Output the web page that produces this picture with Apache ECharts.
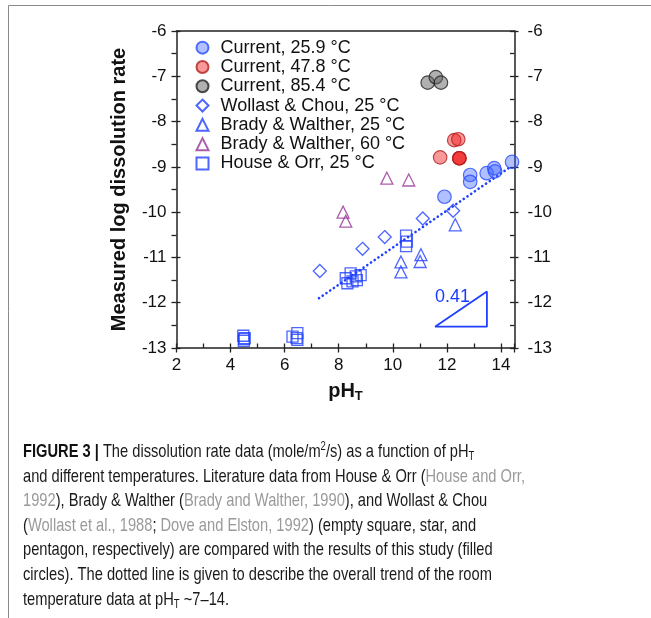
<!DOCTYPE html>
<html><head><meta charset="utf-8">
<script src="https://cdn.jsdelivr.net/npm/echarts@6/dist/echarts.min.js"></script>
<style>html,body{margin:0;padding:0;background:#fff}#c{width:651px;height:618px}</style>
</head><body><div id="c"></div>
<script>
// ---- data (pH_T, measured log dissolution rate) ----
const current259 = [[11.91,-9.66],[12.86,-9.18],[12.86,-9.33],[13.47,-9.14],[13.75,-9.03],[13.78,-9.10],[14.41,-8.89]];
const current478 = [[11.75,-8.79],[12.27,-8.41],[12.42,-8.39],[12.46,-8.81],[12.46,-8.81],[12.46,-8.81]];
const current854 = [[11.29,-7.14],[11.59,-7.02],[11.78,-7.14]];
const wollast25 = [[7.30,-11.30],[8.88,-10.81],[9.70,-10.55],[11.11,-10.14],[12.23,-9.97]];
const brady25 = [[10.30,-11.10],[10.30,-11.32],[11.04,-10.94],[11.01,-11.09],[12.31,-10.28]];
const brady60 = [[8.16,-10.00],[8.26,-10.20],[9.78,-9.25],[10.59,-9.29]];
const houseOrr25 = [[8.26,-11.46],[8.44,-11.35],[8.63,-11.42],[8.81,-11.39],[8.32,-11.57],[8.51,-11.53],[8.67,-11.50],
  [10.49,-10.52],[10.52,-10.65],[10.49,-10.75],
  [4.47,-12.73],[4.49,-12.84],[4.52,-12.78],[4.50,-12.80],
  [6.29,-12.75],[6.47,-12.82],[6.47,-12.67],[6.44,-12.78]];
const trendLine = [[7.27,-11.90],[14.40,-8.98]];
const slopeTriangle = [[11.56,-12.53],[13.48,-11.75],[13.48,-12.53],[11.56,-12.53]];
const slopeLabel = '0.41';
const slopeLabelAt = [[12.15,-11.88]];
const seriesNames = ['Current, 25.9 °C','Current, 47.8 °C','Current, 85.4 °C','Wollast & Chou, 25 °C','Brady & Walther, 25 °C','Brady & Walther, 60 °C','House & Orr, 25 °C'];
const xTicks = [2,4,6,8,10,12,14];
const yTicks = [-13,-12,-11,-10,-9,-8,-7,-6];
const captionLines = [
  '{b|FIGURE 3 |}{n| The dissolution rate data (mole/m}{sup|2}{n|/s) as a function of pH}{sub|T}',
  '{n|and different temperatures. Literature data from House & Orr (}{g|House and Orr,}',
  '{g|1992}{n|), Brady & Walther (}{g|Brady and Walther, 1990}{n|), and Wollast & Chou}',
  '{n|(}{g|Wollast et al., 1988}{n|; }{g|Dove and Elston, 1992}{n|) (empty square, star, and}',
  '{n|pentagon, respectively) are compared with the results of this study (filled}',
  '{n|circles). The dotted line is given to describe the overall trend of the room}',
  '{n|temperature data at pH}{sub|T}{n| ~7–14.}'
];

const FONT = 'Liberation Sans, Arial, Helvetica, sans-serif';
const BLUE = '#2040ff';
const PURPLE = '#993399';
const AX = '#222';
const CAP = 18.5;

const chart = echarts.init(document.getElementById('c'), null, {renderer:'canvas'});

function fmtInt(v){ return xTicks.indexOf(v) >= 0 ? String(v) : ''; }
function fmtY(v){ return yTicks.indexOf(v) >= 0 ? String(v) : ''; }

// caption scale: fit line 2 to its width in the figure
const cv = document.createElement('canvas').getContext('2d');
cv.font = CAP + 'px ' + FONT;
const natural = cv.measureText('and different temperatures. Literature data from House & Orr (House and Orr,').width;
const capScale = 502 / natural;

const graphics = [
  {type:'line', shape:{x1:8.5,y1:5.5,x2:651,y2:5.5}, style:{stroke:'#8a8a8a', lineWidth:1}},
  {type:'line', shape:{x1:8.5,y1:5.5,x2:8.5,y2:618}, style:{stroke:'#8a8a8a', lineWidth:1}}
];
const capY = [452,477,501,526,550,575,600];
captionLines.forEach((t,i)=>{
  graphics.push({type:'text', x:23, y:capY[i], scaleX:capScale, originX:0, originY:0,
    style:{text:t, fontFamily:FONT, fontSize:CAP, fill:'#1a1a1a', verticalAlign:'middle', align:'left',
      rich:{
        n:{fontSize:CAP, fill:'#1a1a1a', fontFamily:FONT, lineHeight:22},
        b:{fontSize:CAP, fontWeight:'bold', fill:'#111', fontFamily:FONT, lineHeight:22},
        g:{fontSize:CAP, fill:'#9a9a9a', fontFamily:FONT, lineHeight:22},
        sup:{fontSize:12, fill:'#1a1a1a', fontFamily:FONT, lineHeight:13, verticalAlign:'top'},
        sub:{fontSize:12, fill:'#1a1a1a', fontFamily:FONT, lineHeight:13, verticalAlign:'bottom'}
      }}});
});

const grid = {left:176.5, right:136.5, top:31, bottom:270, containLabel:false};
const common = {min:2, max:14.5, type:'value', splitLine:{show:false}};
const commonY = {min:-13, max:-6, type:'value', splitLine:{show:false}};

const option = {
  animation:false,
  backgroundColor:'#fff',
  grid: grid,
  graphic: graphics,
  legend: {
    orient:'vertical', left:190.5, top:33, itemWidth:12, itemHeight:12, itemGap:0,
    data: seriesNames,
    textStyle:{fontFamily:FONT, fontSize:18, color:'#111', lineHeight:19.3, padding:[0,0,0,7]},
    selectedMode:false
  },
  xAxis: [
    Object.assign({}, common, {position:'bottom', interval:2,
      axisLine:{show:true, onZero:false, lineStyle:{color:AX, width:1.5}},
      axisTick:{show:true, inside:false, length:4.5, lineStyle:{color:AX, width:1.3}},
      axisLabel:{show:true, formatter:fmtInt, fontFamily:FONT, fontSize:17, color:'#111', margin:9},
      name:'{m|pH}{s|T}', nameLocation:'middle', nameGap:31,
      nameTextStyle:{rich:{m:{fontFamily:FONT, fontSize:20, fontWeight:'bold', color:'#111', lineHeight:24},
                           s:{fontFamily:FONT, fontSize:13, fontWeight:'bold', color:'#111', lineHeight:14, verticalAlign:'bottom'}}}
    }),
    Object.assign({}, common, {position:'bottom', interval:1,
      axisLine:{show:false, onZero:false},
      axisTick:{show:true, inside:true, length:4.5, lineStyle:{color:AX, width:1.3}},
      axisLabel:{show:false}}),
    Object.assign({}, common, {position:'top', interval:2,
      axisLine:{show:true, onZero:false, lineStyle:{color:AX, width:1.5}},
      axisTick:{show:false}, axisLabel:{show:false}})
  ],
  yAxis: [
    Object.assign({}, commonY, {position:'left', interval:0.5,
      axisLine:{show:true, onZero:false, lineStyle:{color:AX, width:1.5}},
      axisTick:{show:true, inside:false, length:5, lineStyle:{color:AX, width:1.3}},
      axisLabel:{show:true, formatter:fmtY, fontFamily:FONT, fontSize:17, color:'#111', margin:10},
      name:'Measured log dissolution rate', nameLocation:'middle', nameGap:47, nameRotate:90,
      nameTextStyle:{fontFamily:FONT, fontSize:20, fontWeight:'bold', color:'#111'}
    }),
    Object.assign({}, commonY, {position:'left', interval:1,
      axisLine:{show:false, onZero:false},
      axisTick:{show:true, inside:true, length:4, lineStyle:{color:AX, width:1.3}},
      axisLabel:{show:false}}),
    Object.assign({}, commonY, {position:'right', interval:1,
      axisLine:{show:true, onZero:false, lineStyle:{color:AX, width:1.5}},
      axisTick:{show:true, inside:false, length:4, lineStyle:{color:AX, width:1.3}},
      axisLabel:{show:true, fontFamily:FONT, fontSize:17, color:'#111', margin:13}}),
    Object.assign({}, commonY, {position:'right', interval:0.5,
      axisLine:{show:false, onZero:false},
      axisTick:{show:true, inside:true, length:4.5, lineStyle:{color:AX, width:1.3}},
      axisLabel:{show:false}})
  ],
  series: [
    {name:'trend', type:'line', data:trendLine, symbol:'none', silent:true, z:1,
      lineStyle:{color:BLUE, width:2.6, type:[0.1,4.4], cap:'round'}},
    {name:'slope', type:'line', data:slopeTriangle, symbol:'none', silent:true, z:1,
      lineStyle:{color:BLUE, width:1.8}},
    {name:'slopeText', type:'scatter', data:slopeLabelAt, symbol:'circle', symbolSize:2, silent:true, z:6,
      itemStyle:{color:'rgba(0,0,0,0)'},
      label:{show:true, position:'right', distance:-17, formatter:slopeLabel, fontFamily:FONT, fontSize:18,
        color:'#1a3cff', textBorderWidth:0, opacity:1}},
    {name:seriesNames[0], type:'scatter', data:current259, symbol:'circle', symbolSize:13.5, z:5,
      itemStyle:{color:'rgba(60,100,255,0.5)', borderColor:'#2a4cff', borderWidth:1.2}},
    {name:seriesNames[1], type:'scatter', data:current478, symbol:'circle', symbolSize:13.5, z:5,
      itemStyle:{color:'rgba(238,20,20,0.55)', borderColor:'#b02020', borderWidth:1.2}},
    {name:seriesNames[2], type:'scatter', data:current854, symbol:'circle', symbolSize:13.5, z:5,
      itemStyle:{color:'rgba(90,90,90,0.6)', borderColor:'#222', borderWidth:1.2}},
    {name:seriesNames[3], type:'scatter', data:wollast25, symbol:'diamond', symbolSize:13, z:4,
      itemStyle:{color:'rgba(255,255,255,0)', borderColor:BLUE, borderWidth:1.3}},
    {name:seriesNames[4], type:'scatter', data:brady25, symbol:'triangle', symbolSize:12, z:4,
      itemStyle:{color:'rgba(255,255,255,0)', borderColor:BLUE, borderWidth:1.3}},
    {name:seriesNames[5], type:'scatter', data:brady60, symbol:'triangle', symbolSize:12, z:4,
      itemStyle:{color:'rgba(255,255,255,0)', borderColor:PURPLE, borderWidth:1.3}},
    {name:seriesNames[6], type:'scatter', data:houseOrr25, symbol:'rect', symbolSize:11, z:4,
      itemStyle:{color:'rgba(255,255,255,0)', borderColor:BLUE, borderWidth:1.3}}
  ]
};
chart.setOption(option);
</script>
</body></html>
